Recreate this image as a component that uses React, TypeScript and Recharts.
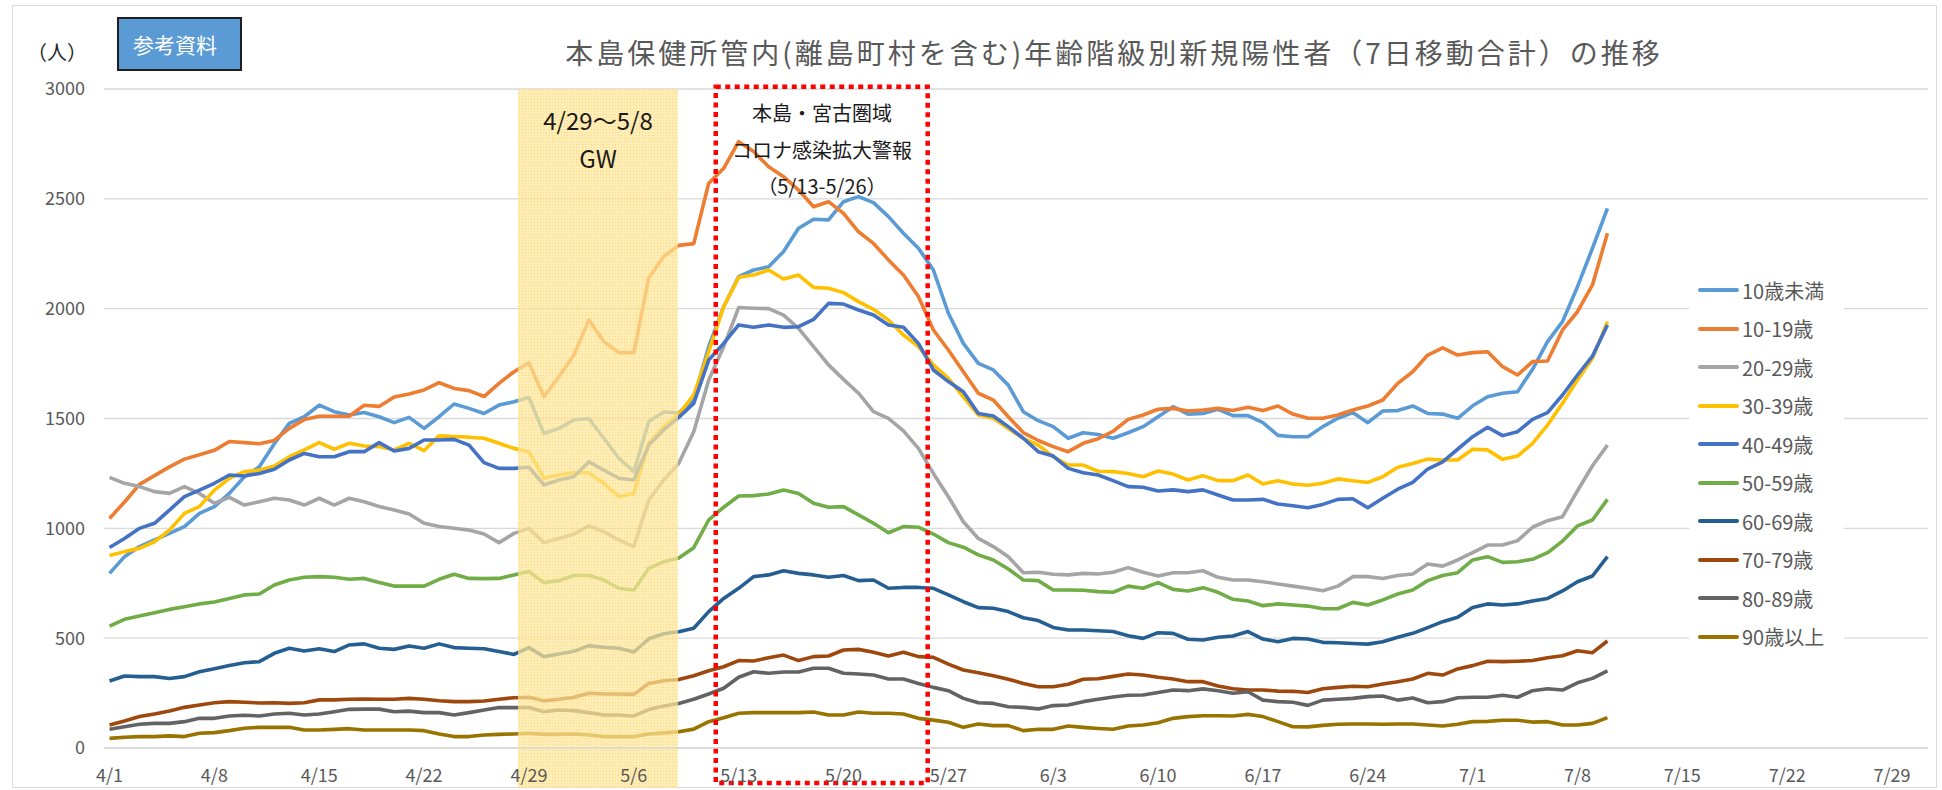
import React from 'react';
import { LineChart, Line, XAxis, YAxis, CartesianGrid, ReferenceArea } from 'recharts';

const FONT = '"Noto Sans CJK JP", "Noto Sans", sans-serif';

// x axis: day index from 4/1, a tick every 7 days
const TICK_LABELS = ['4/1', '4/8', '4/15', '4/22', '4/29', '5/6', '5/13', '5/20', '5/27', '6/3', '6/10', '6/17', '6/24', '7/1', '7/8', '7/15', '7/22', '7/29'];
const TICK_DAYS = TICK_LABELS.map((_, i) => i * 7);
const Y_TICKS = [0, 500, 1000, 1500, 2000, 2500, 3000];

// 7-day moving totals, one value per day from 4/1 to 7/10
const U10 = [795, 871, 917, 947, 977, 1008, 1068, 1099, 1159, 1235,
  1280, 1385, 1478, 1508, 1561, 1531, 1516, 1527, 1508, 1481,
  1505, 1455, 1508, 1566, 1546, 1523, 1561, 1576, 1596, 1432,
  1455, 1493, 1500, 1410, 1319, 1258, 1486, 1530, 1525, 1590,
  1827, 2009, 2146, 2176, 2191, 2260, 2366, 2407, 2404, 2487,
  2510, 2483, 2419, 2343, 2275, 2176, 1979, 1842, 1751, 1721,
  1652, 1531, 1490, 1463, 1410, 1435, 1427, 1410, 1435, 1463,
  1508, 1554, 1520, 1523, 1542, 1513, 1513, 1481, 1423, 1417,
  1417, 1463, 1501, 1527, 1481, 1534, 1536, 1557, 1523, 1520,
  1501, 1558, 1599, 1615, 1622, 1724, 1850, 1941, 2100, 2275,
  2457];
const T10 = [1045, 1120, 1200, 1240, 1280, 1315, 1335, 1355, 1395, 1390,
  1385, 1400, 1455, 1495, 1510, 1510, 1510, 1560, 1555, 1598,
  1612, 1630, 1663, 1637, 1627, 1600, 1660, 1713, 1754, 1599,
  1690, 1789, 1948, 1850, 1800, 1800, 2140, 2238, 2288, 2296,
  2571, 2639, 2760, 2715, 2646, 2601, 2540, 2464, 2487, 2434,
  2350, 2297, 2222, 2153, 2055, 1903, 1812, 1713, 1615, 1584,
  1508, 1436, 1400, 1372, 1349, 1387, 1408, 1442, 1496, 1516,
  1542, 1546, 1534, 1539, 1546, 1536, 1551, 1536, 1557, 1520,
  1501, 1501, 1516, 1539, 1557, 1584, 1660, 1713, 1789, 1822,
  1789, 1800, 1804, 1736, 1698, 1759, 1762, 1903, 1986, 2108,
  2343];
const T20 = [1232, 1205, 1190, 1167, 1159, 1190, 1159, 1114, 1141, 1106,
  1121, 1137, 1129, 1106, 1137, 1106, 1137, 1121, 1099, 1083,
  1065, 1023, 1008, 1000, 992, 974, 935, 977, 1000, 935,
  954, 974, 1011, 985, 947, 917, 1129, 1220, 1296, 1440,
  1675, 1827, 2005, 2002, 2000, 1971, 1910, 1827, 1744, 1678,
  1615, 1531, 1501, 1444, 1364, 1250, 1144, 1030, 954, 917,
  871, 798, 800, 791, 788, 795, 792, 800, 821, 800,
  783, 798, 798, 807, 777, 765, 765, 757, 747, 737,
  727, 716, 737, 780, 780, 772, 785, 792, 838, 828,
  856, 889, 924, 924, 944, 1005, 1035, 1053, 1171, 1285,
  1379];
const T30 = [876, 894, 909, 939, 992, 1068, 1099, 1174, 1228, 1258,
  1265, 1284, 1326, 1357, 1390, 1360, 1387, 1375, 1372, 1357,
  1387, 1354, 1421, 1418, 1415, 1410, 1387, 1364, 1349, 1228,
  1243, 1253, 1253, 1205, 1144, 1159, 1387, 1463, 1520, 1607,
  1804, 2009, 2143, 2153, 2176, 2135, 2153, 2097, 2093, 2073,
  2032, 1997, 1948, 1880, 1827, 1744, 1683, 1599, 1516, 1501,
  1455, 1410, 1379, 1326, 1288, 1288, 1260, 1258, 1250, 1235,
  1261, 1247, 1220, 1240, 1217, 1217, 1243, 1202, 1217, 1202,
  1196, 1205, 1225, 1217, 1209, 1235, 1278, 1295, 1315, 1311,
  1311, 1360, 1357, 1314, 1329, 1387, 1470, 1569, 1675, 1774,
  1941];
const T40 = [913, 954, 1000, 1023, 1083, 1144, 1174, 1205, 1243, 1238,
  1250, 1269, 1311, 1341, 1326, 1326, 1349, 1349, 1390, 1352,
  1364, 1402, 1402, 1405, 1379, 1299, 1273, 1273, 1278, 1198,
  1220, 1235, 1303, 1265, 1228, 1220, 1379, 1448, 1505, 1569,
  1766, 1842, 1926, 1915, 1926, 1915, 1918, 1951, 2024, 2021,
  1994, 1971, 1926, 1915, 1842, 1721, 1668, 1622, 1523, 1511,
  1463, 1410, 1349, 1329, 1273, 1253, 1243, 1217, 1190, 1187,
  1170, 1175, 1167, 1175, 1152, 1129, 1129, 1132, 1111, 1103,
  1094, 1109, 1132, 1135, 1094, 1137, 1178, 1209, 1270, 1303,
  1360, 1417, 1460, 1422, 1440, 1496, 1527, 1607, 1698, 1784,
  1926];
const T50 = [555, 586, 601, 616, 631, 643, 656, 665, 681, 697,
  701, 742, 765, 777, 780, 777, 768, 772, 753, 737,
  737, 737, 768, 791, 772, 771, 772, 788, 803, 753,
  762, 785, 785, 765, 727, 719, 818, 848, 865, 912,
  1038, 1096, 1147, 1149, 1156, 1174, 1159, 1114, 1096, 1099,
  1061, 1023, 980, 1008, 1005, 974, 935, 914, 879, 856,
  815, 765, 762, 719, 719, 718, 712, 709, 737, 727,
  753, 722, 715, 730, 709, 677, 669, 648, 656, 651,
  646, 634, 634, 663, 651, 674, 701, 719, 762, 785,
  798, 856, 871, 845, 848, 859, 889, 942, 1011, 1038,
  1132];
const T60 = [305, 328, 325, 325, 316, 325, 347, 361, 376, 388,
  393, 431, 454, 442, 452, 439, 469, 474, 454, 449,
  464, 454, 474, 457, 454, 452, 439, 426, 457, 416,
  428, 440, 466, 458, 454, 437, 497, 520, 529, 545,
  621, 681, 727, 780, 788, 807, 795, 788, 777, 785,
  762, 765, 727, 731, 731, 727, 697, 666, 639, 636,
  621, 593, 580, 549, 537, 537, 534, 530, 511, 499,
  525, 522, 495, 492, 504, 510, 530, 496, 484, 499,
  496, 481, 479, 476, 473, 484, 504, 522, 548, 575,
  595, 640, 656, 651, 656, 669, 681, 715, 757, 783,
  871];
const T70 = [105, 123, 143, 155, 168, 185, 196, 206, 211, 208,
  205, 206, 203, 206, 219, 219, 222, 223, 222, 222,
  226, 222, 215, 211, 211, 214, 222, 229, 231, 215,
  222, 231, 249, 246, 246, 244, 294, 306, 312, 329,
  352, 370, 398, 396, 411, 423, 398, 416, 419, 446,
  449, 436, 419, 436, 416, 413, 382, 355, 343, 329,
  313, 294, 279, 279, 290, 313, 315, 326, 337, 332,
  322, 314, 302, 302, 282, 270, 264, 264, 259, 258,
  253, 270, 276, 281, 279, 291, 302, 314, 340, 332,
  360, 375, 395, 393, 395, 398, 411, 420, 443, 434,
  487];
const T80 = [85, 97, 108, 112, 112, 120, 135, 135, 146, 149,
  146, 155, 158, 150, 155, 165, 176, 177, 177, 165,
  168, 161, 161, 150, 161, 173, 184, 184, 184, 165,
  173, 170, 161, 150, 150, 146, 175, 191, 203, 222,
  246, 272, 322, 347, 340, 346, 346, 363, 363, 340,
  337, 332, 314, 314, 294, 276, 261, 226, 206, 203,
  188, 185, 178, 193, 196, 211, 222, 232, 240, 241,
  253, 264, 261, 269, 261, 249, 256, 218, 211, 208,
  194, 218, 222, 226, 234, 237, 218, 228, 206, 211,
  229, 231, 231, 240, 231, 261, 270, 264, 297, 317,
  351];
const T90 = [44, 49, 52, 52, 55, 52, 67, 70, 79, 90,
  94, 94, 94, 82, 82, 85, 88, 82, 82, 82,
  82, 79, 64, 52, 52, 59, 62, 64, 67, 62,
  62, 64, 59, 52, 52, 52, 64, 69, 74, 86,
  120, 138, 158, 161, 161, 161, 161, 164, 150, 150,
  164, 158, 158, 155, 135, 127, 117, 94, 109, 102,
  102, 79, 85, 85, 100, 94, 89, 85, 100, 105,
  115, 135, 143, 147, 147, 146, 153, 143, 120, 97,
  96, 103, 108, 109, 109, 108, 109, 109, 105, 100,
  108, 120, 121, 126, 126, 118, 120, 105, 105, 112,
  138];

const SERIES = [
  { key: 'u10', name: '10歳未満', color: '#5B9BD5', values: U10 },
  { key: 't10', name: '10-19歳', color: '#ED7D31', values: T10 },
  { key: 't20', name: '20-29歳', color: '#A5A5A5', values: T20 },
  { key: 't30', name: '30-39歳', color: '#FFC000', values: T30 },
  { key: 't40', name: '40-49歳', color: '#4472C4', values: T40 },
  { key: 't50', name: '50-59歳', color: '#70AD47', values: T50 },
  { key: 't60', name: '60-69歳', color: '#255E91', values: T60 },
  { key: 't70', name: '70-79歳', color: '#9E480E', values: T70 },
  { key: 't80', name: '80-89歳', color: '#636363', values: T80 },
  { key: 't90', name: '90歳以上', color: '#997300', values: T90 },
];

const rows = U10.map((_, i) => {
  const row: any = { d: i };
  SERIES.forEach(s => { row[s.key] = s.values[i]; });
  return row;
});

const textGray = '#595959';

export default function App() {
  return (
    <div style={{ position: 'absolute', left: 0, top: 0, width: 1942, height: 790, background: '#fff', fontFamily: FONT, overflow: 'hidden' }}>
      <div style={{ position: 'absolute', left: 12, top: 5, width: 1925, height: 783, border: '1.5px solid #D9D9D9', boxSizing: 'border-box' }} />

      <LineChart
        width={1942}
        height={790}
        data={rows}
        margin={{ top: 89, right: 14, bottom: 12, left: 44 }}
        style={{ position: 'absolute', left: 0, top: 0, fontFamily: FONT }}
      >
        <defs>
          <pattern id="gwDots" width="3" height="3" patternUnits="userSpaceOnUse">
            <rect width="3" height="3" fill="#FFE699" fillOpacity="0.72" />
            <rect width="1" height="1" fill="#F2C94C" fillOpacity="0.55" />
          </pattern>
        </defs>
        <CartesianGrid vertical={false} stroke="#D9D9D9" strokeWidth={1.3} />
        <XAxis
          type="number"
          dataKey="d"
          domain={[-0.37, 121.4]}
          ticks={TICK_DAYS}
          interval={0}
          tickFormatter={(v: number) => TICK_LABELS[Math.round(v / 7)]}
          axisLine={{ stroke: '#D9D9D9', strokeWidth: 1.3 }}
          tickLine={false}
          tickMargin={15}
          tick={{ fill: textGray, fontSize: 18 }}
          allowDataOverflow
        />
        <YAxis
          domain={[0, 3000]}
          ticks={Y_TICKS}
          interval={0}
          width={60}
          axisLine={false}
          tickLine={false}
          tickMargin={13}
          tick={{ fill: textGray, fontSize: 18 }}
          allowDataOverflow
        />
        {SERIES.map(s => (
          <Line
            key={s.key}
            type="linear"
            dataKey={s.key}
            name={s.name}
            stroke={s.color}
            strokeWidth={3.6}
            strokeLinejoin="round"
            dot={false}
            activeDot={false}
            isAnimationActive={false}
          />
        ))}
        <ReferenceArea
          x1={27.27}
          x2={37.95}
          y1={-182}
          y2={3000}
          ifOverflow="visible"
          fill="url(#gwDots)"
          fillOpacity={1}
          stroke="none"
          zIndex={450}
        />
        <ReferenceArea
          x1={40.47}
          x2={54.62}
          y1={-159}
          y2={3010}
          ifOverflow="visible"
          fill="none"
          stroke="#FF0000"
          strokeWidth={4.5}
          strokeDasharray="5 4.5"
          zIndex={460}
        />
      </LineChart>

      <div style={{ position: 'absolute', left: 27, top: 38, fontSize: 20, lineHeight: '28px', color: '#262626' }}>（人）</div>

      <div style={{ position: 'absolute', left: 117, top: 17, width: 125, height: 54, background: '#5B9BD5', border: '2px solid #1F1F1F', boxSizing: 'border-box', color: '#fff', fontSize: 21, lineHeight: '50px', paddingLeft: 14 }}>
        参考資料
      </div>

      <div style={{ position: 'absolute', left: 1114, top: 34, transform: 'translateX(-50%)', whiteSpace: 'nowrap', fontSize: 28, lineHeight: '36px', letterSpacing: 3, color: textGray }}>
        本島保健所管内(離島町村を含む)年齢階級別新規陽性者（7日移動合計）の推移
      </div>

      <div style={{ position: 'absolute', left: 598, top: 101, transform: 'translateX(-50%)', whiteSpace: 'nowrap', textAlign: 'center', fontSize: 24, lineHeight: '38px', color: '#1a1a1a' }}>
        4/29～5/8<br />GW
      </div>

      <div style={{ position: 'absolute', left: 822, top: 95, transform: 'translateX(-50%)', whiteSpace: 'nowrap', textAlign: 'center', fontSize: 20, lineHeight: '36.5px', color: '#1a1a1a' }}>
        本島・宮古圏域<br />コロナ感染拡大警報<br />（5/13-5/26）
      </div>

      <div style={{ position: 'absolute', left: 1689, top: 271, width: 155, height: 385, background: '#fff' }}>
        {SERIES.map(s => (
          <div key={s.key} style={{ height: 38.5, display: 'flex', alignItems: 'center' }}>
            <div style={{ marginLeft: 9, width: 41, height: 4, borderRadius: 2, background: s.color }} />
            <span style={{ marginLeft: 3, fontSize: 20, color: textGray, whiteSpace: 'nowrap' }}>{s.name}</span>
          </div>
        ))}
      </div>
    </div>
  );
}
